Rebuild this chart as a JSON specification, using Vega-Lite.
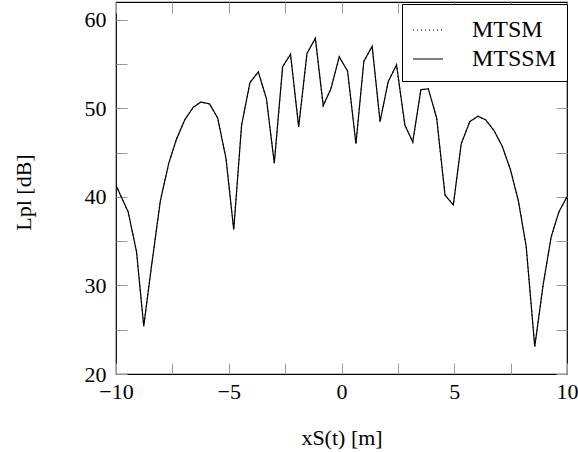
{
  "$schema": "https://vega.github.io/schema/vega-lite/v6.json",
  "width": 451,
  "height": 372,
  "autosize": {"type": "none"},
  "padding": {"left": 116, "top": 2, "right": 11, "bottom": 78},
  "config": {
    "view": {"stroke": "black", "strokeWidth": 1.2},
    "font": "Liberation Serif",
    "axis": {
      "grid": false,
      "domain": false,
      "tickColor": "#9a9a9a",
      "tickSize": -11,
      "tickWidth": 1,
      "labelFlush": false,
      "labelFont": "Liberation Serif",
      "labelFontSize": 22,
      "labelColor": "black",
      "titleFont": "Liberation Serif",
      "titleFontSize": 22,
      "titleFontWeight": "normal",
      "titleColor": "black"
    },
    "legend": {
      "orient": "none",
      "legendX": 286,
      "legendY": 2,
      "strokeColor": "black",
      "fillColor": "white",
      "padding": 10,
      "symbolType": "stroke",
      "symbolSize": 900,
      "symbolStrokeWidth": 1.2,
      "symbolStrokeColor": "black",
      "labelFont": "Liberation Serif",
      "labelFontSize": 24,
      "labelColor": "black",
      "labelOffset": 28,
      "rowPadding": 1
    }
  },
  "data": {
    "values": [
      {"x": -10, "MTSM": 41.3, "MTSSM": 41.3},
      {"x": -9.46, "MTSM": 38.3, "MTSSM": 38.3},
      {"x": -9.09, "MTSM": 33.8, "MTSSM": 33.8},
      {"x": -8.77, "MTSM": 25.4, "MTSSM": 25.4},
      {"x": -8.43, "MTSM": 32.1, "MTSSM": 32.1},
      {"x": -8.03, "MTSM": 39.6, "MTSSM": 39.6},
      {"x": -7.66, "MTSM": 43.8, "MTSSM": 43.8},
      {"x": -7.32, "MTSM": 46.5, "MTSSM": 46.5},
      {"x": -6.95, "MTSM": 48.7, "MTSSM": 48.7},
      {"x": -6.58, "MTSM": 50.1, "MTSSM": 50.1},
      {"x": -6.24, "MTSM": 50.7, "MTSSM": 50.7},
      {"x": -5.85, "MTSM": 50.5, "MTSSM": 50.5},
      {"x": -5.49, "MTSM": 48.9, "MTSSM": 48.9},
      {"x": -5.12, "MTSM": 44.3, "MTSSM": 44.3},
      {"x": -4.78, "MTSM": 36.3, "MTSSM": 36.3},
      {"x": -4.43, "MTSM": 48.1, "MTSSM": 48.1},
      {"x": -4.06, "MTSM": 52.9, "MTSSM": 52.9},
      {"x": -3.69, "MTSM": 54.1, "MTSSM": 54.1},
      {"x": -3.33, "MTSM": 51.1, "MTSSM": 51.1},
      {"x": -2.98, "MTSM": 43.8, "MTSSM": 43.8},
      {"x": -2.61, "MTSM": 54.7, "MTSSM": 54.7},
      {"x": -2.26, "MTSM": 56.1, "MTSSM": 56.1},
      {"x": -1.90, "MTSM": 47.9, "MTSSM": 47.9},
      {"x": -1.53, "MTSM": 56.2, "MTSSM": 56.2},
      {"x": -1.16, "MTSM": 57.9, "MTSSM": 57.9},
      {"x": -0.81, "MTSM": 50.3, "MTSSM": 50.3},
      {"x": -0.47, "MTSM": 52.2, "MTSSM": 52.2},
      {"x": -0.10, "MTSM": 55.8, "MTSSM": 55.8},
      {"x": 0.27, "MTSM": 54.2, "MTSSM": 54.2},
      {"x": 0.64, "MTSM": 46.0, "MTSSM": 46.0},
      {"x": 0.99, "MTSM": 55.3, "MTSSM": 55.3},
      {"x": 1.36, "MTSM": 57.0, "MTSSM": 57.0},
      {"x": 1.71, "MTSM": 48.5, "MTSSM": 48.5},
      {"x": 2.07, "MTSM": 53.0, "MTSSM": 53.0},
      {"x": 2.44, "MTSM": 54.9, "MTSSM": 54.9},
      {"x": 2.81, "MTSM": 48.1, "MTSSM": 48.1},
      {"x": 3.16, "MTSM": 46.2, "MTSSM": 46.2},
      {"x": 3.52, "MTSM": 52.1, "MTSSM": 52.1},
      {"x": 3.85, "MTSM": 52.2, "MTSSM": 52.2},
      {"x": 4.22, "MTSM": 48.9, "MTSSM": 48.9},
      {"x": 4.59, "MTSM": 40.2, "MTSSM": 40.2},
      {"x": 4.96, "MTSM": 39.1, "MTSSM": 39.1},
      {"x": 5.31, "MTSM": 46.0, "MTSSM": 46.0},
      {"x": 5.69, "MTSM": 48.5, "MTSSM": 48.5},
      {"x": 6.05, "MTSM": 49.1, "MTSSM": 49.1},
      {"x": 6.39, "MTSM": 48.7, "MTSSM": 48.7},
      {"x": 6.76, "MTSM": 47.5, "MTSSM": 47.5},
      {"x": 7.13, "MTSM": 45.7, "MTSSM": 45.7},
      {"x": 7.50, "MTSM": 43.0, "MTSSM": 43.0},
      {"x": 7.84, "MTSM": 39.6, "MTSSM": 39.6},
      {"x": 8.19, "MTSM": 34.4, "MTSSM": 34.4},
      {"x": 8.57, "MTSM": 23.1, "MTSSM": 23.1},
      {"x": 8.95, "MTSM": 30.2, "MTSSM": 30.2},
      {"x": 9.30, "MTSM": 35.5, "MTSSM": 35.5},
      {"x": 9.64, "MTSM": 38.3, "MTSSM": 38.3},
      {"x": 10, "MTSM": 40.0, "MTSSM": 40.0}
    ]
  },
  "transform": [{"fold": ["MTSM", "MTSSM"], "as": ["series", "L"]}],
  "layer": [
    {
      "mark": {"type": "line", "strokeWidth": 1.2, "clip": true},
      "encoding": {
        "x": {
          "field": "x", "type": "quantitative",
          "scale": {"domain": [-10, 10], "nice": false, "zero": false},
          "axis": {
            "orient": "bottom",
            "values": [-10, -7.5, -5, -2.5, 0, 2.5, 5, 7.5, 10],
            "format": "d",
            "labelExpr": "datum.value % 5 == 0 ? datum.label : ''",
            "labelPadding": 18,
            "title": "xS(t) [m]",
            "titleX": 225.5,
            "titleY": 63,
            "titleBaseline": "middle",
            "titleAnchor": null
          }
        },
        "y": {
          "field": "L", "type": "quantitative",
          "scale": {"domain": [20, 62], "nice": false, "zero": false},
          "axis": {
            "orient": "left",
            "values": [20, 25, 30, 35, 40, 45, 50, 55, 60],
            "format": "d",
            "labelExpr": "datum.value % 10 == 0 ? datum.label : ''",
            "labelPadding": 21,
            "title": "Lpl [dB]",
            "titleAngle": -90,
            "titleX": -93,
            "titleY": 190,
            "titleAlign": "center",
            "titleBaseline": "middle"
          }
        },
        "color": {
          "field": "series", "type": "nominal",
          "scale": {"domain": ["MTSM", "MTSSM"], "range": ["black", "black"]},
          "legend": {"title": null}
        },
        "strokeDash": {
          "field": "series", "type": "nominal",
          "scale": {"domain": ["MTSM", "MTSSM"], "range": [[1, 3], [1, 0]]},
          "legend": {"title": null}
        }
      }
    },
    {
      "mark": {"type": "line", "opacity": 0},
      "encoding": {
        "x": {
          "field": "x", "type": "quantitative",
          "scale": {"domain": [-10, 10], "nice": false, "zero": false},
          "axis": {
            "orient": "top",
            "values": [-10, -7.5, -5, -2.5, 0, 2.5, 5, 7.5, 10],
            "labels": false,
            "title": null
          }
        },
        "y": {
          "field": "L", "type": "quantitative",
          "scale": {"domain": [20, 62], "nice": false, "zero": false},
          "axis": {
            "orient": "right",
            "values": [20, 25, 30, 35, 40, 45, 50, 55, 60],
            "labels": false,
            "title": null
          }
        },
        "detail": {"field": "series", "type": "nominal"}
      }
    }
  ],
  "resolve": {"axis": {"x": "independent", "y": "independent"}}
}
